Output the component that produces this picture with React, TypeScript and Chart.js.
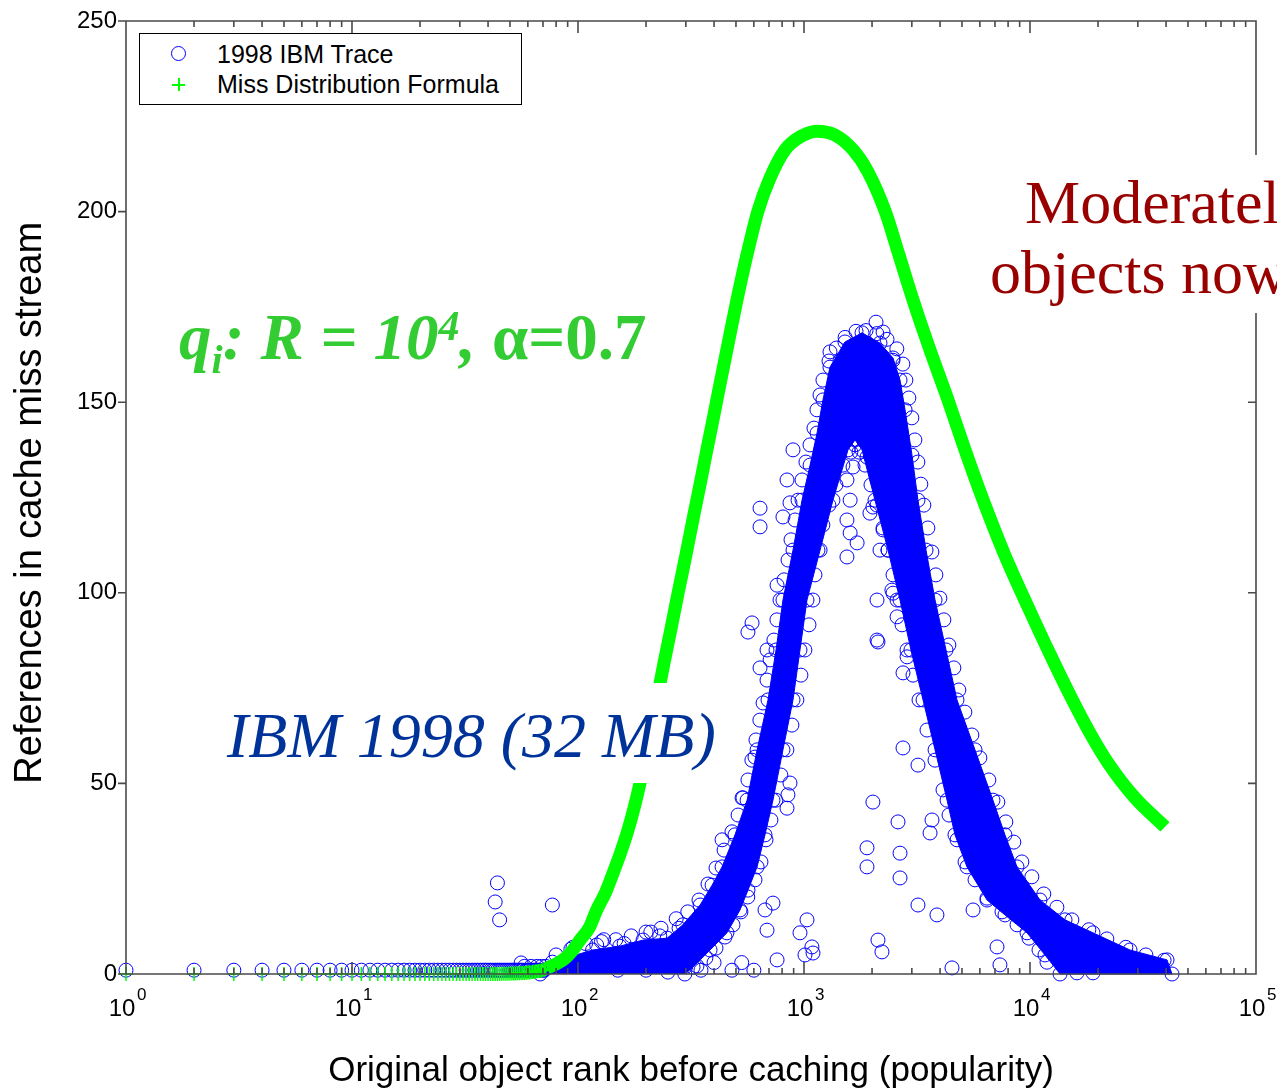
import React, { useEffect, useRef } from 'react';
import { Chart, registerables } from 'chart.js';

Chart.register(...registerables);

const SANS = "'Liberation Sans', Arial, Helvetica, sans-serif";
const SERIF = "'Liberation Serif', 'Times New Roman', Times, serif";
const BLUE = '#0000ff';
const GREEN = '#00ff00';
const AXIS = '#4a4a4a';

const X_TITLE = 'Original object rank before caching (popularity)';
const Y_TITLE = 'References in cache miss stream';
const TRACE_LABEL = '1998 IBM Trace';
const FORMULA_LABEL = 'Miss Distribution Formula';

// x axis: decades 10^0 .. 10^5 ; y axis 0..250 step 50
const xTickExponents = [0, 1, 2, 3, 4, 5];
const yTickValues = [0, 50, 100, 150, 200, 250];

// ---- low ranks (one marker per object rank) ----
const lowRanks = [
  1, 2, 3, 4, 5, 6, 7, 8, 9, 10, 11, 12, 13, 14, 15, 16, 17, 18, 19, 20,
  21, 22, 23, 24, 25, 26, 27, 28, 29, 30, 31, 32, 33, 34, 35, 36, 37, 38, 39, 40,
  41, 42, 43, 44, 45, 46, 47, 48, 49, 50, 51, 52, 53, 54, 55, 56, 57, 58, 59, 60,
  61, 62, 63, 64, 65, 66, 67, 68, 69, 70, 71, 72,
];
const traceLowValues = [
  1, 1, 1, 1, 1, 1, 1, 1, 1, 1, 1, 1, 1, 1, 1, 1, 1, 1, 1, 1,
  1, 1, 1, 1, 1, 1, 1, 1, 1, 1, 1, 1, 1, 1, 1, 1, 1, 1, 1, 1,
  1, 1, 1, 1, 1, 1, 1, 1, 1, 1, 1, 1, 1, 1, 1, 1, 1, 2, 1, 1,
  1, 2, 1, 1, 1, 2, 1, 1, 2, 1, 1, 2,
];
const formulaLowValues = [
  0, 0, 0, 0, 0, 0, 0, 0, 0, 0, 0, 0, 0, 0, 0, 0, 0, 0, 0, 0,
  0, 0, 0, 0, 0, 0, 0, 0, 0, 0, 0, 0, 0, 0, 0, 0, 0, 0, 0, 0,
  0, 0, 0, 0, 0, 0.05, 0.06, 0.07, 0.08, 0.1, 0.12, 0.14, 0.16, 0.18, 0.2, 0.23, 0.26, 0.29, 0.33, 0.37,
  0.41, 0.46, 0.51, 0.57, 0.63, 0.7, 0.78, 0.86, 0.95, 1.05, 1.16, 1.28,
];

// ---- Miss distribution formula (dense band of markers) ----
const formulaRanks = [
  73, 80, 88, 95, 102, 112, 121, 132, 143, 153, 165, 177, 188, 213, 240, 258, 277, 301,
  326, 347, 372, 392, 416, 456, 505, 559, 626, 707, 824, 960, 1142, 1371, 1648, 1920,
  2283, 2633, 3037, 3610, 4337, 5158, 6134, 7674, 9799, 12260, 15343, 18429, 22137, 29151, 39571,
];
const formulaValues = [
  1.6, 2.6, 4.2, 6.3, 8.9, 12.1, 16.8, 21.2, 26.5, 31.2, 37, 43.5, 50, 65.6, 81.5, 90.6, 99.8, 110.2,
  120.6, 128.5, 137.6, 144.2, 152, 163.8, 176.8, 188.6, 200.2, 208.8, 216.2, 219.6, 221.1, 220.1, 216.2, 210.4,
  200.2, 188.6, 176.8, 163.7, 150.6, 137.5, 125.1, 110.4, 96.3, 83.9, 72.1, 63.2, 55.4, 46.2, 38.6,
];

// ---- 1998 IBM trace: outline of the densest part of the cloud ----
const traceCoreRanks = [
  68, 77, 92, 116, 153, 194, 248, 291, 347, 392, 434, 495, 560, 620, 693, 752, 807, 894, 980,
  1064, 1142, 1213, 1303, 1518, 1806, 2169, 2477, 2660, 2800, 3006, 3194, 3467, 3801, 4250,
  4753, 5710, 6857, 7750, 8759, 11070, 14290, 19000, 27700, 40400, 42500,
  13580, 11650, 9700, 7750, 6455, 5262, 4656, 4295, 3801, 3363, 2973, 2660, 2354, 2061, 1806,
  1682, 1566, 1343, 1178, 1031, 960, 894, 807, 729, 672, 620, 565, 521, 456, 384, 323, 297,
];
const traceCoreValues = [
  0, 3.1, 4.5, 6.3, 7.3, 8.9, 9.4, 12.9, 18.1, 23.3, 28.1, 36.5, 45.6, 58.8, 71.9, 85, 98.1, 111.2, 124.3,
  133.5, 141.9, 150.6, 159.2, 165.8, 168.2, 165.5, 161.6, 155.8, 148, 136.1, 124.3, 111.2, 98.1, 85,
  71.9, 58.8, 45.6, 36.5, 28.1, 19.4, 14.2, 10.8, 6.3, 3.7, 0,
  0, 5, 10.8, 15.5, 19.4, 28.1, 36.5, 45.6, 58.8, 71.9, 85, 98.1, 111.2, 124.3, 137.5,
  140.1, 137.5, 124.3, 111.2, 98.1, 85, 71.9, 58.8, 45.6, 36.5, 28.1, 22, 16.8, 10.8, 6.3, 1.8, 0,
];

// ---- 1998 IBM trace: markers along the fuzzy edges of the cloud [rank, value] ----
const traceEdgePoints: [number, number][] = [
  [80, 5], [93, 6.5], [108, 8], [127, 8.5], [147, 9], [172, 10], [200, 11], [233, 12], [272, 14.5],
  [306, 16.3], [343, 19.4], [376, 23.6], [408, 27.8], [443, 32.5], [480, 37.3], [511, 41.7],
  [537, 46.2], [565, 50.9], [588, 56.1], [613, 61.4], [638, 66.6], [659, 71.1], [686, 77.1],
  [708, 82.4], [736, 87.6], [759, 92.9], [783, 98.1], [816, 103.4], [850, 108.6], [876, 113.9],
  [913, 119.1], [941, 124.3], [980, 129.6], [1020, 134.3], [1063, 138.8], [1107, 143.2],
  [1141, 148], [1177, 151.9], [1213, 155.8], [1290, 160.8], [1390, 164.2], [1520, 167],
  [1699, 168.6], [1881, 168.8], [2100, 168], [2330, 166.5],
  [2575, 164], [2738, 160], [2823, 155.8], [2911, 151.1], [3000, 145.9], [3094, 140.1],
  [3190, 134.3], [3288, 128.5], [3391, 123], [3532, 117], [3680, 110.7], [3832, 104.7],
  [3992, 98.6], [4158, 92.9], [4375, 86.3], [4603, 80.3], [4844, 74.5], [5149, 68.7],
  [5531, 62.7], [6000, 56.7], [6575, 50.9], [7206, 45.1], [7818, 39.9], [8481, 34.6],
  [9204, 29.4], [10190, 25.5], [11510, 21], [13150, 17.5], [15320, 14.2], [18210, 11.6],
  [21880, 9.2], [26550, 7], [32560, 5], [39200, 3.6],
  [1682, 138.8], [1752, 136.9], [1862, 133.5], [1979, 128.3], [2104, 123], [2237, 117],
  [2354, 111.2], [2477, 104.7], [2580, 98.1], [2715, 91.6], [2856, 85], [3036, 78.4],
  [3228, 71.9], [3502, 64], [3799, 56.1], [4122, 48.3], [4382, 41.7], [4755, 35.2],
  [5158, 29.4], [5711, 24.7], [6453, 19.9], [7519, 16.3], [8761, 12.9], [9897, 9.4],
  [10960, 6.3], [11890, 3.1],
  [1612, 136.9], [1486, 133.5], [1384, 128.3], [1289, 123], [1212, 117.8], [1153, 111.2],
  [1118, 104.7], [1095, 98.1], [1052, 91.6], [1009, 85], [969, 78.4], [930, 71.9], [884, 65.3],
  [840, 58.8], [790, 52.2], [751, 45.6], [714, 40.4], [679, 35.2], [645, 29.4], [607, 24.7],
  [564, 20.2], [526, 16.3], [485, 12.9], [447, 9.7], [408, 6.8], [368, 4.2], [336, 2.1],
];

// ---- 1998 IBM trace: scattered individual markers ----
const traceScatterRanks = [
  44, 43, 45, 77, 56, 121, 95, 130, 160, 180, 210, 230, 260, 280, 150, 200, 300, 250, 350, 400,
  480, 530, 600, 589, 686, 639, 867, 849, 841, 434, 1031, 960, 1096, 760, 686, 672, 729,
  639, 639, 565, 2083, 2238, 1303, 760, 841, 894, 867, 807,
  1549, 1600, 1549, 1600, 1549, 1718, 1900, 2104, 2018, 2238, 2169, 1958, 1648,
  2104, 2104, 2477, 2581, 2858, 2742, 2125, 2018, 1900, 1900, 2660, 2660, 3194, 3875, 3684,
  3612, 2606, 1084, 1010, 2125, 2213, 4517, 7145, 7362, 16140, 19000, 2742, 3194, 2449,
  5598, 532, 607, 1443, 1770, 2477,
];
const traceScatterValues = [
  23.9, 18.9, 14.2, 18.1, 2.9, 7.6, 7, 9, 8, 6, 11, 10, 8, 12, 1, 1, 2, 0.5, 1, 3,
  1, 3, 1, 92.1, 85, 80.3, 50.1, 47, 43.5, 35.2, 14.2, 10.8, 5.5, 3.7, 11.5, 16.8, 18.6,
  122.2, 117.3, 89.7, 171, 168.4, 163.2, 102, 129.6, 137.5, 123.6, 119.9,
  129.6, 124.3, 119.1, 115.7, 109.4, 113.1, 135.6, 129.6, 122.5, 116.5, 111.2, 120.9, 133,
  87.6, 98.1, 99.9, 93.7, 83.2, 79, 87.1, 45.1, 33.1, 28.1, 31.7, 25.2, 18.1, 15.5, 40.4,
  37, 39.9, 7.1, 5, 8.9, 5.8, 1.6, 7.1, 2.4, 0.3, 0.3, 59.3, 54.8, 100.7,
  16.8, 46.2, 56.9, 161, 165, 161,
];

const zip = (xs: number[], ys: number[]) => xs.map((x, i) => ({ x, y: ys[i] }));

const isPow10 = (v: number) => {
  const lg = Math.log10(v);
  return Math.abs(lg - Math.round(lg)) < 1e-9;
};

const framePlugin = {
  id: 'matlabFrame',
  afterDatasetsDraw(chart: any) {
    const { ctx, chartArea: a } = chart;
    const xs = chart.scales.x;
    const ys = chart.scales.y;
    ctx.save();
    ctx.strokeStyle = AXIS;
    ctx.lineWidth = 1.6;
    ctx.beginPath();
    ctx.rect(a.left, a.top, a.right - a.left, a.bottom - a.top);
    for (const t of xs.ticks) {
      const v = t.value;
      const e = Math.floor(Math.log10(v) + 1e-9);
      const s = v / Math.pow(10, e);
      if (Math.abs(s - Math.round(s)) > 1e-6) continue;
      const len = Math.round(s) === 1 ? 12 : 6;
      const px = xs.getPixelForValue(v);
      ctx.moveTo(px, a.bottom);
      ctx.lineTo(px, a.bottom - len);
      ctx.moveTo(px, a.top);
      ctx.lineTo(px, a.top + len);
    }
    for (const t of ys.ticks) {
      const py = ys.getPixelForValue(t.value);
      ctx.moveTo(a.left - 8, py);
      ctx.lineTo(a.left, py);
      ctx.moveTo(a.right - 8, py);
      ctx.lineTo(a.right, py);
    }
    ctx.stroke();
    ctx.fillStyle = '#000';
    ctx.font = `17px ${SANS}`;
    ctx.textAlign = 'left';
    ctx.textBaseline = 'alphabetic';
    for (const e of xTickExponents) {
      const px = xs.getPixelForValue(Math.pow(10, e));
      ctx.fillText(String(e), px + 11, a.bottom + 26);
    }
    ctx.restore();
  },
};

export default function App() {
  const ref = useRef<HTMLCanvasElement | null>(null);

  useEffect(() => {
    if (!ref.current) return;
    Chart.defaults.font.family = SANS;
    Chart.defaults.color = '#000';
    const circle = {
      pointStyle: 'circle',
      pointRadius: 7,
      pointBorderWidth: 1,
      pointBorderColor: BLUE,
      pointBackgroundColor: 'rgba(0,0,0,0)',
    };
    const chart = new Chart(ref.current, {
      type: 'scatter',
      data: {
        datasets: [
          {
            label: FORMULA_LABEL,
            data: zip(lowRanks, formulaLowValues),
            showLine: false,
            pointStyle: 'cross',
            pointRadius: 7,
            pointBorderWidth: 1.5,
            pointBorderColor: GREEN,
            borderColor: GREEN,
            backgroundColor: GREEN,
            order: 0,
            clip: false,
          },
          {
            label: FORMULA_LABEL + ' (band)',
            data: zip(formulaRanks, formulaValues),
            showLine: true,
            borderColor: GREEN,
            borderWidth: 13,
            borderCapStyle: 'butt',
            borderJoinStyle: 'round',
            cubicInterpolationMode: 'monotone',
            pointRadius: 0,
            backgroundColor: GREEN,
            order: 1,
            clip: false,
          },
          {
            label: TRACE_LABEL,
            data: zip(lowRanks, traceLowValues)
              .concat(zip(traceScatterRanks, traceScatterValues))
              .concat(traceEdgePoints.map(([x, y]) => ({ x, y }))),
            showLine: false,
            borderColor: BLUE,
            backgroundColor: 'rgba(0,0,0,0)',
            ...circle,
            order: 2,
            clip: false,
          },
          {
            label: TRACE_LABEL + ' (dense)',
            data: zip(traceCoreRanks, traceCoreValues),
            showLine: true,
            fill: 'shape',
            tension: 0,
            borderColor: BLUE,
            borderWidth: 1,
            backgroundColor: BLUE,
            ...circle,
            order: 3,
            clip: false,
          },
        ],
      } as any,
      options: {
        animation: false,
        responsive: false,
        events: [],
        layout: { padding: { top: 21, right: 21, left: 0, bottom: 0 } },
        plugins: { legend: { display: false }, tooltip: { enabled: false } },
        scales: {
          x: {
            type: 'logarithmic',
            min: Math.pow(10, xTickExponents[0]),
            max: Math.pow(10, xTickExponents[xTickExponents.length - 1]),
            grid: { display: false, drawTicks: false },
            border: { display: false },
            ticks: {
              autoSkip: false,
              maxRotation: 0,
              minRotation: 0,
              padding: 21,
              labelOffset: -4,
              color: '#000',
              font: { size: 24, family: SANS },
              callback: (v: any) => (isPow10(Number(v)) ? '10' : ''),
            },
            title: {
              display: true,
              text: X_TITLE,
              color: '#000',
              font: { size: 35, family: SANS },
              padding: { top: 0, bottom: 0 },
            },
            afterFit: (s: any) => {
              s.height = 118;
              s.paddingLeft = 0;
              s.paddingRight = 0;
            },
          },
          y: {
            min: yTickValues[0],
            max: yTickValues[yTickValues.length - 1],
            grid: { display: false, drawTicks: false },
            border: { display: false },
            ticks: {
              stepSize: yTickValues[1] - yTickValues[0],
              padding: 9,
              color: '#000',
              font: { size: 24, family: SANS },
            },
            title: {
              display: true,
              text: Y_TITLE + ' ',
              color: '#000',
              font: { size: 38, family: SANS },
              padding: { top: 8, bottom: 0 },
            },
            afterFit: (s: any) => {
              s.width = 126;
              s.paddingTop = 0;
              s.paddingBottom = 0;
            },
          },
        },
      } as any,
      plugins: [framePlugin],
    });
    return () => chart.destroy();
  }, []);

  return (
    <div
      style={{
        position: 'absolute',
        left: 0,
        top: 0,
        width: 1277,
        height: 1092,
        overflow: 'hidden',
        background: '#fff',
      }}
    >
      <canvas ref={ref} width={1277} height={1092} style={{ position: 'absolute', left: 0, top: 0 }} />

      {/* legend */}
      <div
        style={{
          position: 'absolute',
          left: 139,
          top: 33,
          width: 383,
          height: 72,
          boxSizing: 'border-box',
          border: '1px solid #000',
          background: '#fff',
          fontFamily: SANS,
          fontSize: 25,
          color: '#000',
        }}
      >
        <div
          style={{
            position: 'absolute',
            left: 31,
            top: 12,
            width: 15,
            height: 15,
            boxSizing: 'border-box',
            border: `1px solid ${BLUE}`,
            borderRadius: '50%',
          }}
        />
        <div style={{ position: 'absolute', left: 77, top: 8, lineHeight: '25px', whiteSpace: 'nowrap' }}>
          {TRACE_LABEL}
        </div>
        <div style={{ position: 'absolute', left: 32, top: 50, width: 13, height: 1.5, background: GREEN }} />
        <div style={{ position: 'absolute', left: 38, top: 44, width: 1.5, height: 13, background: GREEN }} />
        <div style={{ position: 'absolute', left: 77, top: 38, lineHeight: '25px', whiteSpace: 'nowrap' }}>
          {FORMULA_LABEL}
        </div>
      </div>

      {/* formula annotation */}
      <div
        style={{
          position: 'absolute',
          left: 179,
          top: 305,
          fontFamily: SERIF,
          fontStyle: 'italic',
          fontWeight: 'bold',
          fontSize: 65,
          lineHeight: '64px',
          color: '#33cc33',
          whiteSpace: 'nowrap',
        }}
      >
        q<span style={{ fontSize: 40, position: 'relative', top: 14, lineHeight: 0 }}>i</span>: R = 10
        <span style={{ fontSize: 42, position: 'relative', top: -19, lineHeight: 0 }}>4</span>,{' '}
        <span style={{ fontStyle: 'normal' }}>α=0.7</span>
      </div>

      {/* IBM annotation */}
      <div style={{ position: 'absolute', left: 224, top: 683, width: 496, height: 100, background: '#fff' }}>
        <div
          style={{
            position: 'absolute',
            left: 3,
            top: 21,
            fontFamily: SERIF,
            fontStyle: 'italic',
            fontSize: 64,
            lineHeight: '64px',
            color: '#003399',
            whiteSpace: 'nowrap',
          }}
        >
          IBM 1998 (32 MB)
        </div>
      </div>

      {/* red annotation (clipped at the page edge) */}
      <div
        style={{
          position: 'absolute',
          left: 985,
          top: 155,
          width: 300,
          height: 158,
          background: '#fff',
          overflow: 'hidden',
          fontFamily: SERIF,
          fontSize: 62,
          lineHeight: '62px',
          color: '#990000',
          whiteSpace: 'nowrap',
        }}
      >
        <div style={{ position: 'absolute', left: 40, top: 16 }}>Moderately</div>
        <div style={{ position: 'absolute', left: 5, top: 86 }}>objects now</div>
      </div>
    </div>
  );
}
